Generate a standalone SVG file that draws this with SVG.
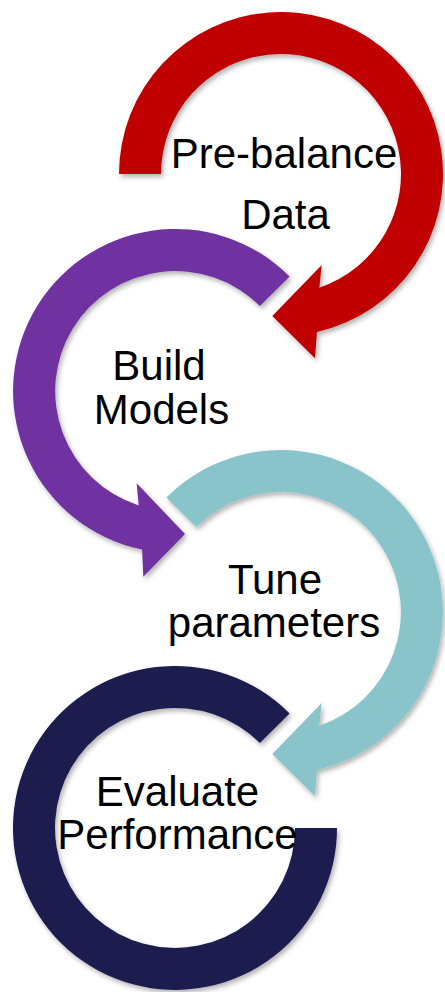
<svg xmlns="http://www.w3.org/2000/svg" width="445" height="992" viewBox="0 0 445 992">
  <style>
    .label { font-family: "Liberation Sans", Arial, sans-serif; font-size: 42px; fill: #000; text-anchor: middle; }
    .ring { filter: url(#soft); }
    .red { fill: #C00000; }
    .purple { fill: #7030A0; }
    .teal { fill: #8AC4CB; }
    .navy { fill: #1C1B50; }
  </style>
  <defs>
    <filter id="soft" x="-10%" y="-10%" width="120%" height="120%">
      <feDropShadow dx="2" dy="3" stdDeviation="2.5" flood-color="#000" flood-opacity="0.3"/>
    </filter>
  </defs>

  <rect width="445" height="992" fill="#fff"/>

  <!-- Step 1: clockwise arrow, centre (281,174) -->
  <g id="step-prebalance">
    <path class="ring red" d="M119,174 A162,162 0 1 1 316.9,332 L315,358.3 L272.3,316 L321.7,265 L319.3,287.7 A120,120 0 1 0 161,174 Z"/>
    <text class="label" x="284" y="168">Pre-balance</text>
    <text class="label" x="285.5" y="229">Data</text>
  </g>

  <!-- Step 2: counter-clockwise arrow, centre (175,391) -->
  <g id="step-build">
    <path class="ring purple" d="M289.6,276.4 A162,162 0 1 0 142.1,549.6 L143.3,576.7 L185,534 L136.7,483.3 L138.7,505.4 A120,120 0 1 1 259.9,306.1 Z"/>
    <text class="label" x="159" y="379.5">Build</text>
    <text class="label" x="161.5" y="423.5">Models</text>
  </g>

  <!-- Step 3: clockwise arrow, centre (281,612) -->
  <g id="step-tune">
    <path class="ring teal" d="M166.4,497.4 A162,162 0 1 1 316.9,770 L315,796.3 L272.3,754 L321.7,703 L319.3,725.7 A120,120 0 1 0 196.1,527.1 Z"/>
    <text class="label" x="275" y="594">Tune</text>
    <text class="label" x="274" y="637">parameters</text>
  </g>

  <!-- Step 4: open ring without head, centre (175,828) -->
  <g id="step-evaluate">
    <path class="ring navy" d="M289.6,713.4 A162,162 0 1 0 337,828 L295,828 A120,120 0 1 1 259.9,743.1 Z"/>
    <text class="label" x="177.5" y="806">Evaluate</text>
    <text class="label" x="177.5" y="849">Performance</text>
  </g>
</svg>
